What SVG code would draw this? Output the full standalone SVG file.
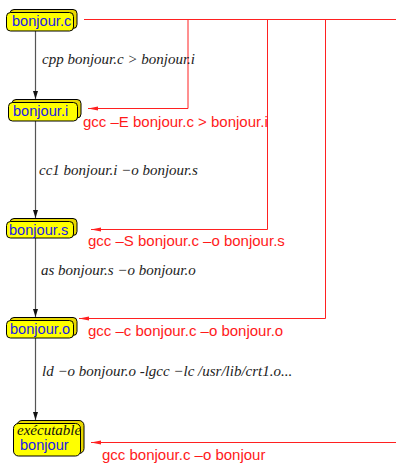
<svg xmlns="http://www.w3.org/2000/svg" width="396" height="463" viewBox="0 0 396 463">
  <style>
    .back { fill: #e8d800; stroke: #000; stroke-width: 1; }
    .front { fill: #ffff00; stroke: #000; stroke-width: 1; }
    .name { font-family: "Liberation Sans", Arial, sans-serif; font-size: 14.6px; fill: #1a1ae6; }
    .step { font-family: "Liberation Serif", "Times New Roman", serif; font-style: italic; font-size: 15px; fill: #222; }
    .gcc { font-family: "Liberation Sans", Arial, sans-serif; font-size: 15px; fill: #ff1a1a; }
    .flow { fill: none; stroke: #555; stroke-width: 1.2; }
    .direct { fill: none; stroke: #ff2020; stroke-width: 1; }
  </style>
  <defs>
    <marker id="down" viewBox="0 0 8 8" refX="8" refY="4" markerWidth="8" markerHeight="8" markerUnits="userSpaceOnUse" orient="auto">
      <path d="M0,1.5 L8,4 L0,6.5 Z" fill="#111"/>
    </marker>
    <marker id="left" viewBox="0 0 10 8" refX="10" refY="4" markerWidth="10" markerHeight="8" markerUnits="userSpaceOnUse" orient="auto">
      <path d="M0,2 L10,4 L0,6 Z" fill="#ff2020"/>
    </marker>
  </defs>

  <!-- compilation chain and direct gcc shortcuts -->
  <g id="connectors">
    <line class="flow" x1="35.5" y1="31" x2="35.5" y2="99" marker-end="url(#down)"/>
    <line class="flow" x1="35.5" y1="121" x2="35.5" y2="218" marker-end="url(#down)"/>
    <line class="flow" x1="35.5" y1="238" x2="35.5" y2="317" marker-end="url(#down)"/>
    <line class="flow" x1="35.5" y1="338" x2="35.5" y2="420" marker-end="url(#down)"/>

    <line class="direct" x1="84" y1="19.5" x2="396" y2="19.5"/>
    <polyline class="direct" points="188,19.5 188,108.5 88,108.5" marker-end="url(#left)"/>
    <polyline class="direct" points="267.5,19.5 267.5,229.5 91,229.5" marker-end="url(#left)"/>
    <polyline class="direct" points="325.5,19.5 325.5,318.5 79,318.5" marker-end="url(#left)"/>
    <line class="direct" x1="396" y1="442.5" x2="91" y2="442.5" marker-end="url(#left)"/>
  </g>

  <!-- step labels -->
  <text class="step" x="42" y="64">cpp bonjour.c &gt; bonjour.i</text>
  <text class="step" x="39" y="175">cc1 bonjour.i −o bonjour.s</text>
  <text class="step" x="41" y="275">as bonjour.s −o bonjour.o</text>
  <text class="step" x="42" y="376">ld −o bonjour.o -lgcc −lc /usr/lib/crt1.o...</text>

  <text class="gcc" x="83" y="127">gcc –E bonjour.c &gt; bonjour.i</text>
  <text class="gcc" x="88" y="246">gcc –S bonjour.c –o bonjour.s</text>
  <text class="gcc" x="88" y="336">gcc –c bonjour.c –o bonjour.o</text>
  <text class="gcc" x="102" y="460">gcc bonjour.c –o bonjour</text>

  <g id="bonjour-c">
    <rect class="back" x="10" y="9.5" width="67" height="19" rx="4"/>
    <rect class="front" x="6.5" y="12.5" width="67" height="18.5" rx="4"/>
    <text class="name" x="12" y="26">bonjour.c</text>
  </g>
  <g id="bonjour-i">
    <rect class="back" x="12" y="99.5" width="69" height="18.5" rx="4"/>
    <rect class="front" x="8.5" y="102.5" width="69" height="18.5" rx="4"/>
    <text class="name" x="13" y="116">bonjour.i</text>
  </g>
  <g id="bonjour-s">
    <rect class="back" x="10" y="218.5" width="67" height="17" rx="4"/>
    <rect class="front" x="6.5" y="221.5" width="67" height="16.5" rx="4"/>
    <text class="name" x="9" y="235">bonjour.s</text>
  </g>
  <g id="bonjour-o">
    <rect class="back" x="10" y="317.5" width="67" height="18" rx="4"/>
    <rect class="front" x="6.5" y="320.5" width="67" height="17.5" rx="4"/>
    <text class="name" x="10" y="334">bonjour.o</text>
  </g>
  <g id="executable">
    <rect class="back" x="17" y="420.5" width="67" height="33" rx="5"/>
    <rect class="front" x="13.5" y="423.5" width="67" height="32.5" rx="5"/>
    <text class="step" x="17" y="435" style="fill:#111">exécutable</text>
    <text class="name" x="20" y="450">bonjour</text>
  </g>
</svg>
